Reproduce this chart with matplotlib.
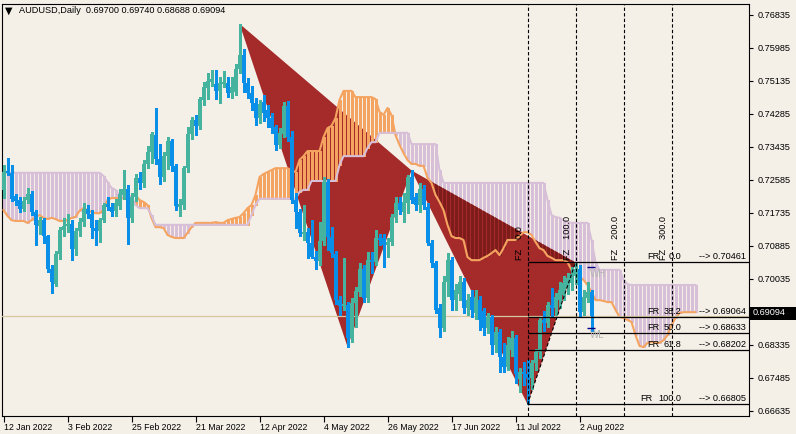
import numpy as np
import matplotlib.pyplot as plt
from matplotlib.patches import PathPatch, Rectangle
from matplotlib.path import Path
from matplotlib import transforms

plt.rcParams['font.family'] = ['Liberation Sans', 'DejaVu Sans']

# daily candles, 12 Jan 2022 .. 5 Aug 2022 (one per weekday)
opens = [
    0.7233, 0.7281, 0.7277, 0.7217, 0.7208, 0.7183, 0.7207, 0.7222, 0.7175, 0.7140,
    0.7155, 0.7113, 0.7030, 0.6990, 0.7068, 0.7130, 0.7140, 0.7145, 0.7080, 0.7128,
    0.7150, 0.7185, 0.7172, 0.7135, 0.7127, 0.7155, 0.7196, 0.7190, 0.7178, 0.7192,
    0.7220, 0.7236, 0.7160, 0.7215, 0.7263, 0.7250, 0.7299, 0.7330, 0.7375, 0.7312,
    0.7265, 0.7320, 0.7358, 0.7294, 0.7189, 0.7194, 0.7289, 0.7377, 0.7413, 0.7398,
    0.7465, 0.7495, 0.7511, 0.7506, 0.7488, 0.7506, 0.7508, 0.7482, 0.7485, 0.7545,
    0.7581, 0.7509, 0.7482, 0.7458, 0.7418, 0.7460, 0.7440, 0.7418, 0.7395, 0.7348,
    0.7378, 0.7450, 0.7369, 0.7207, 0.7176, 0.7120, 0.7125, 0.7096, 0.7060, 0.7050,
    0.7101, 0.7253, 0.7112, 0.7067, 0.6950, 0.6935, 0.6937, 0.6852, 0.6942, 0.6970,
    0.7030, 0.6955, 0.7052, 0.7046, 0.7110, 0.7110, 0.7090, 0.7100, 0.7163, 0.7200,
    0.7176, 0.7200, 0.7266, 0.7215, 0.7194, 0.7235, 0.7190, 0.7096, 0.7044, 0.6928,
    0.6877, 0.6995, 0.7052, 0.6949, 0.6965, 0.6995, 0.6928, 0.6957, 0.6915, 0.6950,
    0.6920, 0.6876, 0.6905, 0.6834, 0.6867, 0.6803, 0.6777, 0.6820, 0.6851, 0.6745,
    0.6763, 0.6760, 0.6748, 0.6788, 0.6815, 0.6897, 0.6890, 0.6936, 0.6928, 0.6950,
    0.6962, 0.6980, 0.6993, 0.7010, 0.7030, 0.6919, 0.6955, 0.69700,
]
highs = [
    0.7297, 0.7316, 0.7297, 0.7222, 0.7215, 0.7215, 0.7237, 0.7230, 0.7180, 0.7163,
    0.7160, 0.7118, 0.7040, 0.7075, 0.7137, 0.7160, 0.7170, 0.7155, 0.7135, 0.7160,
    0.7200, 0.7195, 0.7180, 0.7155, 0.7160, 0.7200, 0.7215, 0.7200, 0.7210, 0.7235,
    0.7285, 0.7245, 0.7225, 0.7275, 0.7280, 0.7310, 0.7345, 0.7382, 0.7443, 0.7350,
    0.7330, 0.7369, 0.7365, 0.7300, 0.7210, 0.7295, 0.7395, 0.7420, 0.7425, 0.7472,
    0.7511, 0.7534, 0.7542, 0.7542, 0.7525, 0.7538, 0.7525, 0.7525, 0.7558, 0.7661,
    0.7595, 0.7522, 0.7500, 0.7470, 0.7465, 0.7478, 0.7452, 0.7430, 0.7400, 0.7392,
    0.7460, 0.7462, 0.7385, 0.7225, 0.7185, 0.7193, 0.7135, 0.7155, 0.7075, 0.7150,
    0.7265, 0.7262, 0.7137, 0.7075, 0.6960, 0.7057, 0.6945, 0.6955, 0.6982, 0.7045,
    0.7040, 0.7074, 0.7072, 0.7130, 0.7120, 0.7120, 0.7110, 0.7170, 0.7215, 0.7215,
    0.7225, 0.7272, 0.7283, 0.7225, 0.7250, 0.7245, 0.7200, 0.7105, 0.7050, 0.6940,
    0.7010, 0.7070, 0.7060, 0.6990, 0.7010, 0.7005, 0.6965, 0.6975, 0.6975, 0.6960,
    0.6930, 0.6915, 0.6912, 0.6880, 0.6875, 0.6838, 0.6854, 0.6870, 0.6858, 0.6775,
    0.6790, 0.6794, 0.6795, 0.6822, 0.6905, 0.6920, 0.6945, 0.6980, 0.6968, 0.6995,
    0.7010, 0.7018, 0.7035, 0.70461, 0.7040, 0.6975, 0.6995, 0.69740,
]
lows = [
    0.7212, 0.7271, 0.7205, 0.7195, 0.7175, 0.7178, 0.7200, 0.7168, 0.7090, 0.7120,
    0.7097, 0.7022, 0.6968, 0.6985, 0.7055, 0.7115, 0.7125, 0.7052, 0.7065, 0.7115,
    0.7140, 0.7160, 0.7110, 0.7092, 0.7100, 0.7150, 0.7180, 0.7165, 0.7165, 0.7185,
    0.7210, 0.7094, 0.7150, 0.7205, 0.7235, 0.7240, 0.7290, 0.7302, 0.7300, 0.7248,
    0.7255, 0.7287, 0.7281, 0.7180, 0.7167, 0.7185, 0.7280, 0.7365, 0.7374, 0.7390,
    0.7452, 0.7467, 0.7500, 0.7467, 0.7457, 0.7498, 0.7472, 0.7470, 0.7478, 0.7535,
    0.7485, 0.7470, 0.7440, 0.7400, 0.7405, 0.7410, 0.7395, 0.7380, 0.7335, 0.7340,
    0.7370, 0.7360, 0.7200, 0.7135, 0.7115, 0.7103, 0.7057, 0.7057, 0.7030, 0.7040,
    0.7090, 0.7078, 0.7060, 0.6940, 0.6910, 0.6923, 0.6829, 0.6840, 0.6880, 0.6960,
    0.6945, 0.6945, 0.7020, 0.7040, 0.7090, 0.7035, 0.7060, 0.7090, 0.7150, 0.7170,
    0.7150, 0.7173, 0.7200, 0.7180, 0.7176, 0.7185, 0.7090, 0.7035, 0.6915, 0.6854,
    0.6870, 0.6960, 0.6923, 0.6923, 0.6950, 0.6915, 0.6910, 0.6905, 0.6900, 0.6871,
    0.6860, 0.6865, 0.6810, 0.6815, 0.6764, 0.6765, 0.6770, 0.6805, 0.6735, 0.6712,
    0.6730, 0.6681, 0.6720, 0.6770, 0.6800, 0.6870, 0.6880, 0.6905, 0.6910, 0.6930,
    0.6950, 0.6965, 0.6975, 0.6990, 0.6905, 0.6910, 0.6945, 0.68688,
]
closes = [
    0.7279, 0.7277, 0.7210, 0.7205, 0.7183, 0.7205, 0.7222, 0.7175, 0.7142, 0.7155,
    0.7113, 0.7030, 0.6995, 0.7068, 0.7130, 0.7140, 0.7145, 0.7080, 0.7128, 0.7150,
    0.7185, 0.7172, 0.7135, 0.7127, 0.7155, 0.7193, 0.7188, 0.7177, 0.7200, 0.7222,
    0.7236, 0.7160, 0.7215, 0.7263, 0.7250, 0.7299, 0.7330, 0.7377, 0.7312, 0.7265,
    0.7320, 0.7358, 0.7294, 0.7191, 0.7197, 0.7289, 0.7377, 0.7413, 0.7398, 0.7467,
    0.7498, 0.7513, 0.7518, 0.7488, 0.7508, 0.7511, 0.7482, 0.7498, 0.7545, 0.7581,
    0.7509, 0.7482, 0.7458, 0.7418, 0.7455, 0.7430, 0.7418, 0.7392, 0.7348, 0.7380,
    0.7450, 0.7369, 0.7207, 0.7176, 0.7122, 0.7125, 0.7096, 0.7060, 0.7050, 0.7101,
    0.7253, 0.7112, 0.7070, 0.6949, 0.6935, 0.6940, 0.6852, 0.6942, 0.6972, 0.7030,
    0.6955, 0.7052, 0.7046, 0.7110, 0.7105, 0.7090, 0.7100, 0.7163, 0.7200, 0.7180,
    0.7202, 0.7266, 0.7207, 0.7194, 0.7235, 0.7194, 0.7096, 0.7044, 0.6923, 0.6877,
    0.6995, 0.7052, 0.6949, 0.6975, 0.6995, 0.6928, 0.6949, 0.6923, 0.6957, 0.6897,
    0.6876, 0.6905, 0.6834, 0.6867, 0.6803, 0.6777, 0.6834, 0.6851, 0.6760, 0.6763,
    0.6760, 0.6748, 0.6788, 0.6815, 0.6897, 0.6890, 0.6936, 0.6928, 0.6957, 0.6975,
    0.6993, 0.7005, 0.7016, 0.7030, 0.6919, 0.6957, 0.6970, 0.69094,
]

# ichimoku cloud (senkou spans), runs 26 bars past the last candle
span_a = [
    0.7181, 0.7166, 0.7155, 0.7153, 0.7153, 0.7153, 0.7148, 0.7155, 0.7163, 0.7168,
    0.7161, 0.7158, 0.7161, 0.7158, 0.7153, 0.7153, 0.7155, 0.7161, 0.7163, 0.7179,
    0.7186, 0.7181, 0.7176, 0.7173, 0.7173, 0.7181, 0.7207, 0.7212, 0.7212, 0.7212,
    0.7212, 0.7212, 0.7217, 0.7220, 0.7207, 0.7202, 0.7194, 0.7161, 0.7137, 0.7137,
    0.7135, 0.7117, 0.7112, 0.7109, 0.7109, 0.7109, 0.7122, 0.7137, 0.7148, 0.7148,
    0.7148, 0.7148, 0.7148, 0.7150, 0.7148, 0.7148, 0.7155, 0.7158, 0.7161, 0.7163,
    0.7173, 0.7186, 0.7194, 0.7220, 0.7266, 0.7274, 0.7279, 0.7284, 0.7289, 0.7289,
    0.7289, 0.7289, 0.7284, 0.7279, 0.7310, 0.7320, 0.7333, 0.7333, 0.7333, 0.7333,
    0.7369, 0.7392, 0.7398, 0.7418, 0.7465, 0.7488, 0.7488, 0.7488, 0.7472, 0.7472,
    0.7472, 0.7472, 0.7472, 0.7467, 0.7434, 0.7426, 0.7444, 0.7426, 0.7374, 0.7349,
    0.7328, 0.7310, 0.7300, 0.7300, 0.7295, 0.7295, 0.7264, 0.7251, 0.7220, 0.7202,
    0.7181, 0.7143, 0.7114, 0.7109, 0.7109, 0.7104, 0.7060, 0.7052, 0.7052, 0.7052,
    0.7058, 0.7063, 0.7070, 0.7078, 0.7065, 0.7083, 0.7104, 0.7104, 0.7104, 0.7114,
    0.7124, 0.7124, 0.7117, 0.7099, 0.7083, 0.7078, 0.7063, 0.7058, 0.7052, 0.7052,
    0.7052, 0.7047, 0.7027, 0.7016, 0.7009, 0.7001, 0.6988, 0.6970, 0.6949, 0.6949,
    0.6947, 0.6944, 0.6944, 0.6924, 0.6906, 0.6903, 0.6898, 0.6893, 0.6859, 0.6831,
    0.6828, 0.6839, 0.6841, 0.6839, 0.6839, 0.6846, 0.6859, 0.6885, 0.6903, 0.6916,
    0.6918, 0.6918, 0.6918, 0.6918,
]
span_b = [
    0.7277, 0.7277, 0.7277, 0.7277, 0.7277, 0.7277, 0.7277, 0.7277, 0.7277, 0.7277,
    0.7277, 0.7277, 0.7277, 0.7277, 0.7277, 0.7277, 0.7277, 0.7277, 0.7277, 0.7277,
    0.7277, 0.7277, 0.7277, 0.7277, 0.7277, 0.7269, 0.7253, 0.7238, 0.7233, 0.7220,
    0.7215, 0.7215, 0.7215, 0.7194, 0.7186, 0.7186, 0.7186, 0.7168, 0.7143, 0.7143,
    0.7143, 0.7143, 0.7143, 0.7143, 0.7143, 0.7143, 0.7143, 0.7143, 0.7143, 0.7143,
    0.7143, 0.7143, 0.7143, 0.7143, 0.7143, 0.7143, 0.7143, 0.7143, 0.7143, 0.7143,
    0.7143, 0.7143, 0.7168, 0.7194, 0.7210, 0.7210, 0.7210, 0.7210, 0.7210, 0.7210,
    0.7210, 0.7210, 0.7210, 0.7210, 0.7228, 0.7233, 0.7233, 0.7256, 0.7256, 0.7256,
    0.7256, 0.7256, 0.7256, 0.7256, 0.7297, 0.7320, 0.7320, 0.7320, 0.7320, 0.7320,
    0.7320, 0.7341, 0.7356, 0.7356, 0.7380, 0.7380, 0.7380, 0.7380, 0.7380, 0.7380,
    0.7380, 0.7380, 0.7351, 0.7351, 0.7351, 0.7351, 0.7351, 0.7351, 0.7351, 0.7284,
    0.7251, 0.7251, 0.7251, 0.7251, 0.7251, 0.7251, 0.7251, 0.7251, 0.7251, 0.7251,
    0.7251, 0.7251, 0.7251, 0.7251, 0.7251, 0.7251, 0.7251, 0.7251, 0.7251, 0.7251,
    0.7251, 0.7251, 0.7251, 0.7251, 0.7251, 0.7251, 0.7207, 0.7168, 0.7163, 0.7161,
    0.7155, 0.7150, 0.7148, 0.7148, 0.7148, 0.7148, 0.7148, 0.7104, 0.7047, 0.7027,
    0.7027, 0.7027, 0.7027, 0.7027, 0.7027, 0.7001, 0.6990, 0.6988, 0.6988, 0.6988,
    0.6988, 0.6988, 0.6988, 0.6988, 0.6988, 0.6988, 0.6988, 0.6988, 0.6988, 0.6988,
    0.6988, 0.6988, 0.6988, 0.6988,
]

date_labels = ['12 Jan 2022', '3 Feb 2022', '25 Feb 2022', '21 Mar 2022', '12 Apr 2022',
               '4 May 2022', '26 May 2022', '17 Jun 2022', '11 Jul 2022', '2 Aug 2022']
date_bars = [0, 16, 32, 48, 64, 80, 96, 112, 128, 144]
price_ticks = [0.76835, 0.75985, 0.75135, 0.74285, 0.73435, 0.72585, 0.71735,
               0.70885, 0.70035, 0.69185, 0.68335, 0.67485, 0.66635]

# XABCD pattern pivots (bar index, price)
pattern_bars = [59, 86, 102, 131, 143]
pattern_prices = [0.7661, 0.6829, 0.7283, 0.6681, 0.70461]

fib_names = ['0.0', '38.2', '50.0', '61.8', '100.0']
fib_prices = [0.70461, 0.69064, 0.68633, 0.68202, 0.66805]
fz_names = ['0.0', '100.0', '200.0', '300.0']
fz_bars = [131, 143, 155, 167]

week_high = 0.7034
week_low = 0.6878

BG = '#F4F0E8'
BULL = '#46B39F'
BEAR = '#0A8FE8'
ORANGE = '#F4A460'
THISTLE = '#D8BFD8'
BROWN = '#A52A2A'

fig = plt.figure(figsize=(7.96, 4.34), dpi=100, facecolor=BG)
ax = fig.add_axes([2 / 796, 1 - 416 / 434, 747 / 796, 412 / 434], facecolor=BG)
ax.set_xlim(-0.375, 186.375)
ax.set_ylim(0.665061, 0.771183)

# cloud hatch
a = np.array(span_a)
b = np.array(span_b)
cx = np.arange(len(a))
a_up = a >= b
ax.vlines(cx[~a_up], a[~a_up], b[~a_up], color=THISTLE, lw=0.75, zorder=1,
          antialiased=False)

# pattern triangles XAB and BCD
p = list(zip(pattern_bars, pattern_prices))
verts = [p[0], p[1], p[2], p[0], p[2], p[3], p[4], p[2]]
codes = [Path.MOVETO, Path.LINETO, Path.LINETO, Path.CLOSEPOLY] * 2
tri = PathPatch(Path(verts, codes), facecolor=BROWN, edgecolor='none', zorder=2)
ax.add_patch(tri)
dark = ax.vlines(cx[~a_up], a[~a_up], b[~a_up], color='#7E1C1C', lw=0.75, zorder=2.2,
                 antialiased=False)
dark.set_clip_path(tri)

ax.vlines(cx[a_up], b[a_up], a[a_up], color=ORANGE, lw=0.75, zorder=3, antialiased=False)
ax.plot(cx, a, color=ORANGE, lw=1.5, zorder=3.5)
ax.plot(cx, b, color=THISTLE, lw=1.5, zorder=3.5)

# current price line
ax.axhline(closes[-1], color='#D6C6A2', lw=0.9, zorder=3.7)

# candles
o = np.array(opens)
h = np.array(highs)
l = np.array(lows)
c = np.array(closes)
x = np.arange(len(c))
cols = np.where(c >= o, BULL, BEAR)
ax.vlines(x, l, h, colors=cols, lw=0.75, zorder=4, antialiased=False)
ax.bar(x, np.maximum(np.abs(c - o), 0.00008), bottom=np.minimum(o, c), width=0.75,
       color=cols, linewidth=0, zorder=4, antialiased=False)

# C-D leg, time zones, retracement levels
dash = (0, (3, 2))
ax.plot(pattern_bars[3:], pattern_prices[3:], color='black', lw=0.8, ls=dash, zorder=6)
for fb in fz_bars:
    ax.axvline(fb, color='black', lw=0.8, ls=dash, zorder=6)
ax.hlines(fib_prices, fz_bars[0], 186.375, color='black', lw=0.9, zorder=6)

up3 = transforms.offset_copy(ax.transData, fig=fig, y=3, units='dots')
for name, price in zip(fib_names, fib_prices):
    fr_x = 159.3 if len(name) > 4 else 160.9
    ax.text(fr_x, price, 'FR', fontsize=6.6, ha='left', va='baseline', transform=up3, zorder=7)
    ax.text(169.4, price, name, fontsize=6.6, ha='right', va='baseline', transform=up3, zorder=7)
    ax.text(185.6, price, f'--> {price:.5f}', fontsize=6.6, ha='right', va='baseline',
            transform=up3, zorder=7)

up2 = transforms.offset_copy(ax.transData, fig=fig, y=2, units='dots')
for name, fb in zip(fz_names, fz_bars):
    ax.text(fb - 0.75, fib_prices[0], f'FZ    {name}', fontsize=6.6, rotation=90,
            ha='right', va='bottom', transform=up2, zorder=7)

# weekly high / low markers
ax.hlines([week_high, week_low], 145.9, 147.9, color='#000080', lw=1, zorder=7)
down2 = transforms.offset_copy(ax.transData, fig=fig, y=-2, units='dots')
ax.text(146.6, week_high, 'WH', color='#B4B4B4', fontsize=7, ha='left', va='top',
        transform=down2, zorder=7)
ax.text(146.6, week_low, 'WL', color='#B4B4B4', fontsize=7, ha='left', va='top',
        transform=down2, zorder=7)

# axes look
for s in ax.spines.values():
    s.set_color('black')
    s.set_linewidth(0.8)
ax.yaxis.tick_right()
ax.set_yticks(price_ticks)
# the tick next to the current price sits under the price box
ax.set_yticklabels(['' if abs(t - closes[-1]) < 0.002 else f'{t:.5f}' for t in price_ticks])
ax.tick_params(axis='y', direction='out', length=3, width=0.8, labelsize=6.6, pad=3)
ax.set_xticks(date_bars)
ax.set_xticklabels(date_labels, ha='left')
ax.tick_params(axis='x', direction='out', length=4, width=0.8, labelsize=6.3, pad=1)

# price box on the scale
fig.canvas.draw()
py = ax.transData.transform((0, closes[-1]))[1] + 3
fig.patches.append(Rectangle((750, py - 7), 46, 13, transform=None,
                             facecolor='black', edgecolor='none', zorder=5))
fig.text(753 / 796, py / 434, f'{closes[-1]:.5f}', color='white', fontsize=6.6,
         ha='left', va='center', zorder=6)

# header
fig.text(5 / 796, 1 - 10.5 / 434, '\u25bc', fontsize=7, va='center',
         family=['DejaVu Sans'])
fig.text(19 / 796, 1 - 10.5 / 434,
         f'AUDUSD,Daily  {opens[-1]:.5f} {highs[-1]:.5f} {lows[-1]:.5f} {closes[-1]:.5f}',
         fontsize=6.6, va='center')

fig.savefig('out.png', dpi=100, facecolor=BG)
